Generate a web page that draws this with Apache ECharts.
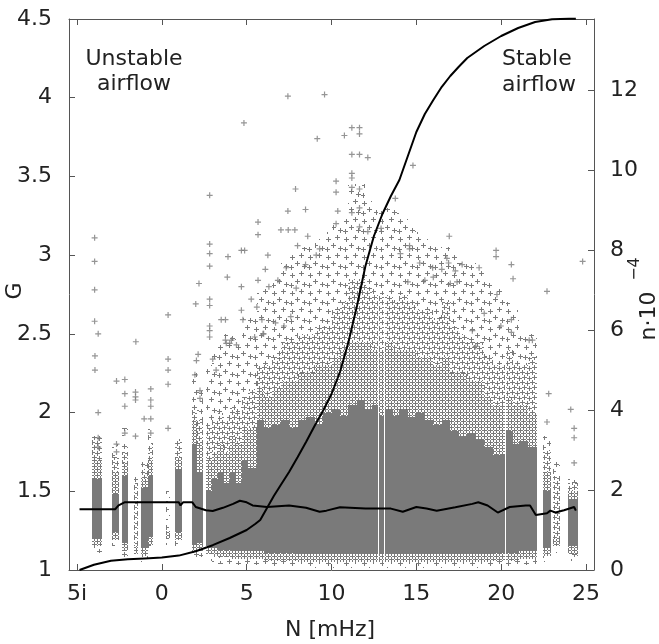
<!DOCTYPE html>
<html><head><meta charset="utf-8">
<script src="https://cdn.jsdelivr.net/npm/echarts@6/dist/echarts.min.js"></script>
<style>html,body{margin:0;padding:0;background:#fff}#c{width:659px;height:644px}</style>
</head><body><div id="c"></div><script>
// ---------------- data ----------------
const xTicks = [-5, 0, 5, 10, 15, 20, 25];
const xTickLabels = ['5i', '0', '5', '10', '15', '20', '25'];
const nTicks = [0, 2, 4, 6, 8, 10, 12];

// scatter columns of G values:
// [N0, N1, bottom of dense, top of dense, top of heavy, top of medium, top of sparse]
const scatterColumns = [
  [-4.14,-3.55,1.20,1.58,1.70,1.85,1.85],
  [-2.96,-2.51,1.24,1.48,1.62,1.72,1.80],
  [-2.37,-1.98,1.17,1.60,1.68,1.75,1.90],
  [-1.62,-1.42,1.15,1.15,1.15,1.55,1.60],
  [-1.20,-0.82,1.14,1.52,1.58,1.64,1.70],
  [-0.80,-0.50,1.21,1.60,1.70,1.80,1.90],
  [0.25,0.50,1.25,1.25,1.25,1.25,1.50],
  [0.76,1.16,1.24,1.64,1.72,1.83,1.83],
  [1.75,2.10,1.16,1.80,1.95,2.05,2.25],
  [2.10,2.45,1.17,1.62,1.80,1.95,2.15],
  [2.60,2.95,1.15,1.50,1.70,1.90,2.30],
  [2.95,3.30,1.14,1.58,1.75,1.95,2.40],
  [3.30,3.65,1.13,1.62,1.80,2.00,2.45],
  [3.65,4.00,1.13,1.55,1.75,1.95,2.50],
  [4.00,4.35,1.12,1.62,1.85,2.05,2.50],
  [4.35,4.70,1.12,1.55,1.80,2.00,2.45],
  [4.70,5.10,1.12,1.70,1.90,2.10,2.60],
  [5.10,5.60,1.12,1.65,1.90,2.15,2.60],
  [5.6,6.0,1.12,1.95,2.15,2.30,2.80],
  [6.0,6.5,1.11,1.90,2.10,2.30,2.80],
  [6.5,7.0,1.11,1.92,2.15,2.35,2.85],
  [7.0,7.5,1.11,1.95,2.20,2.45,2.95],
  [7.5,8.0,1.11,1.90,2.20,2.45,3.00],
  [8.0,8.5,1.10,1.95,2.25,2.50,3.05],
  [8.5,9.0,1.10,1.97,2.25,2.50,3.05],
  [9.0,9.5,1.10,1.93,2.30,2.55,3.10],
  [9.5,10.0,1.10,2.00,2.30,2.55,3.15],
  [10.0,10.5,1.10,2.02,2.35,2.65,3.20],
  [10.5,11.0,1.10,1.98,2.40,2.70,3.25],
  [11.0,11.5,1.10,2.05,2.45,2.85,3.45],
  [11.5,12.0,1.10,2.08,2.45,2.85,3.45],
  [12.0,12.4,1.10,2.02,2.45,2.80,3.35],
  [12.4,12.73,1.10,2.05,2.40,2.75,3.30],
  [12.79,13.09,1.10,1.98,2.40,2.75,3.30],
  [13.15,13.6,1.10,2.02,2.45,2.75,3.30],
  [13.6,14.0,1.10,1.98,2.40,2.70,3.30],
  [14.0,14.5,1.10,2.02,2.40,2.75,3.25],
  [14.5,15.0,1.10,1.97,2.40,2.70,3.20],
  [15.0,15.5,1.10,2.00,2.35,2.65,3.15],
  [15.5,16.0,1.10,1.95,2.35,2.65,3.10],
  [16.0,16.5,1.10,1.92,2.30,2.60,3.05],
  [16.5,17.0,1.10,1.95,2.35,2.70,3.05],
  [17.0,17.5,1.10,1.88,2.25,2.55,3.00],
  [17.5,18.0,1.10,1.85,2.25,2.50,2.95],
  [18.0,18.5,1.10,1.87,2.20,2.45,2.95],
  [18.5,19.0,1.10,1.83,2.20,2.45,2.90],
  [19.0,19.5,1.10,1.78,2.10,2.35,2.85],
  [19.5,20.22,1.11,1.73,2.05,2.30,2.80],
  [20.28,20.7,1.11,1.88,2.10,2.40,2.70],
  [20.7,21.05,1.11,1.80,2.05,2.30,2.65],
  [21.05,21.6,1.12,1.82,2.05,2.30,2.50],
  [21.6,22.1,1.12,1.78,2.00,2.35,2.50],
  [22.45,22.95,1.14,1.50,1.62,1.76,1.85],
  [23.05,23.45,1.20,1.20,1.20,1.60,1.70],
  [23.95,24.50,1.15,1.45,1.50,1.55,1.60]
];

// isolated points [N, G]
const scatterOutliers = [
  [-3.96,3.11],[-3.96,2.96],[-3.96,2.78],[-3.96,2.58],[-3.75,2.5],[-3.94,2.36],[-3.94,2.27],[-3.75,2.0],[-3.75,1.84],[-3.75,1.78],
  [-2.67,2.2],[-2.18,2.21],[-2.67,1.8],[-2.67,1.75],[-2.18,1.87],[-2.18,2.04],[-2.18,2.12],
  [-1.53,2.45],[-1.55,2.13],[-1.55,2.1],[-1.55,2.08],[-1.55,1.85],
  [-0.65,2.15],[-0.65,2.08],[-0.65,2.04],[-1.04,1.96],[-0.65,1.96],[-0.65,1.87],
  [0.37,2.62],[0.37,2.34],[0.37,2.27],[0.37,2.18],[0.37,1.9],
  [2.0,2.69],[2.19,2.82],[2.04,2.33],[2.14,2.37],[1.95,2.24],[2.25,2.14],[2.25,2.09],
  [2.82,3.38],[2.82,3.07],[2.82,3.01],[2.82,2.93],[2.82,2.72],[2.82,2.68],[2.82,2.52],[2.82,2.48],[2.82,2.55],
  [3.0,2.34],[3.2,2.27],[3.75,2.59],[3.86,2.86],[3.9,2.99],[3.75,2.46],[4.0,2.44],[3.8,2.44],[4.1,2.46],[4.4,2.43],[3.5,2.59],
  [4.69,3.03],[4.88,3.03],[4.84,3.84],[4.69,2.8],[4.69,2.65],[4.78,2.59],[5.27,2.72],[5.47,2.48],[5.96,2.5],[5.67,3.21],
  [5.67,3.13],[5.67,2.84],[5.9,2.59],[6.1,2.91],[6.25,3.0],[6.31,2.8],[6.84,2.84],[5.6,2.67],[6.0,2.5],[6.7,2.57],[7.2,2.55],[7.6,2.61],
  [7.02,3.16],[7.45,3.16],[7.84,3.16],[7.43,3.28],[7.88,3.42],[8.47,3.29],[8.6,3.12],[8.0,3.06],[9.1,3.0],[7.33,2.92],[7.92,2.79],
  [8.47,2.94],[9.16,3.74],[7.43,4.01],[9.59,4.02],[9.3,3.04],
  [11.2,3.81],[11.65,3.81],[11.65,3.77],[10.76,3.76],[11.2,3.64],[11.65,3.64],[12.14,3.62],[11.2,3.52],[11.2,3.49],[11.2,3.43],
  [11.65,3.42],[10.27,3.47],[10.27,3.40],[10.37,3.28],[11.2,3.27],[11.65,3.30],[10.27,3.2],[11.65,3.18],[12.14,3.15],[12.92,3.17],
  [14.8,3.57],[13.76,3.36],[16.94,3.12],[14.6,3.06],[14.6,3.04],[14.06,3.01],[19.7,3.03],[19.7,2.99],[16.8,2.98],[16.9,2.95],
  [17.7,2.94],[18.7,2.92],[20.6,2.94],[20.7,2.85],[22.7,2.77],[19.75,2.75],[19.0,2.63],[20.6,2.59],[20.6,2.51],[19.98,2.55],
  [21.65,2.46],[21.84,2.46],[22.8,2.12],[22.7,1.94],[24.1,2.02],[24.3,1.9],[24.3,1.84],[24.3,1.68],[24.8,2.96],
  [16.5,2.91],[15.2,2.95],[15.96,2.92],[17.3,2.9],[14.5,2.83],[15.5,2.84],[16.0,2.86],[17.0,2.82],[17.4,2.83],[18.3,2.52],[18.5,2.42]
];

// running mean of G
const meanN = [-4.85,-2.75,-2.55,-2.2,1.0,1.1,1.25,1.8,2.0,2.6,3.0,3.6,4.2,4.6,5.0,5.35,6.2,7.5,8.5,9.3,9.7,10.5,12.0,13.5,14.2,15.0,15.6,16.2,17.3,18.3,18.65,19.2,19.8,20.5,21.45,21.7,22.04,22.7,22.9,23.2,23.7,24.3,24.4];
const meanG = [1.386,1.386,1.41,1.43,1.43,1.41,1.43,1.43,1.40,1.38,1.375,1.395,1.42,1.44,1.43,1.41,1.40,1.41,1.395,1.37,1.377,1.398,1.39,1.39,1.37,1.40,1.39,1.377,1.398,1.42,1.43,1.41,1.365,1.40,1.41,1.41,1.35,1.36,1.377,1.365,1.38,1.40,1.377];

// cumulative count n (x 10^4)
const cumN = [-4.85,-4,-3,-2,-1,0,1,2,3,4,5,5.5,5.8,6.2,6.6,7,7.5,8,8.5,9,9.5,10,10.5,11,11.5,12,12.5,13,13.5,14,14.5,15,15.5,16,16.5,17,17.5,18,19,20,21,22,23,24,24.4];
const cumV = [0,0.13,0.23,0.27,0.29,0.31,0.36,0.47,0.62,0.8,1.0,1.15,1.25,1.55,1.85,2.12,2.45,2.82,3.2,3.6,3.98,4.4,4.95,5.7,6.6,7.6,8.35,8.9,9.35,9.75,10.35,10.95,11.4,11.75,12.08,12.35,12.58,12.8,13.1,13.35,13.55,13.7,13.77,13.78,13.78];

// ---------------- styling ----------------
const FONT = '"DejaVu Sans"';
const GREY = '#7a7a7a';
function makeTile(w, h, pts) {
  const c = document.createElement('canvas'); c.width = w; c.height = h;
  const ctx = c.getContext('2d'); ctx.fillStyle = GREY;
  pts.forEach(([x, y]) => {
    [[0,0],[w,0],[-w,0],[0,h],[0,-h]].forEach(([dx, dy]) => {
      ctx.fillRect(x + dx - 2, y + dy, 5, 1); ctx.fillRect(x + dx, y + dy - 2, 1, 5);
    });
  });
  return c;
}
const heavyFill = { image: makeTile(6, 6, [[1,1],[4,4]]), repeat: 'repeat' };
const mediumFill = { image: makeTile(10, 10, [[2,2],[7,3],[4,7],[9,8]]), repeat: 'repeat' };
const sparseFill = { image: makeTile(18, 18, [[4,5],[13,3],[9,11],[16,14],[3,15]]), repeat: 'repeat' };

const plusPath = 'path://M4,0h2v4h4v2h-4v4h-2v-4h-4v-2h4z';

function renderColumn(params, api) {
  const n0 = api.value(0), n1 = api.value(1), lo = api.value(2), dHi = api.value(3),
        hHi = api.value(4), mHi = api.value(5), sHi = api.value(6);
  const children = [];
  function band(y0, y1, fill) {
    if (y1 <= y0) return;
    const a = api.coord([n0, y1]), b = api.coord([n1, y0]);
    const x0 = Math.round(a[0]), x1 = Math.round(b[0]);
    const t = Math.round(a[1]), bt = Math.round(b[1]);
    children.push({ type: 'rect', shape: { x: x0, y: t, width: x1 - x0, height: bt - t }, style: { fill: fill } });
  }
  band(lo - 0.05, lo, heavyFill);
  band(lo - 0.09, lo - 0.05, sparseFill);
  band(lo, dHi, GREY);
  band(dHi, hHi, heavyFill);
  band(hHi, mHi, mediumFill);
  band(mHi, sHi, sparseFill);
  return { type: 'group', children: children };
}

const chart = echarts.init(document.getElementById('c'), null, { renderer: 'canvas' });
const axisLineStyle = { color: '#555', width: 1 };
const labelStyle = { fontFamily: 'DejaVu Sans', fontSize: 22, color: '#222' };

chart.setOption({
  backgroundColor: '#fff',
  animation: false,
  grid: { left: 69, right: 65, top: 19, bottom: 74, containLabel: false, outerBoundsMode: 'none' },
  xAxis: [
    { type: 'value', min: -5.47, max: 25.47, position: 'bottom',
      axisLine: { show: true, onZero: false, lineStyle: axisLineStyle },
      axisTick: { show: true, inside: true, length: 6, customValues: xTicks, lineStyle: axisLineStyle },
      axisLabel: Object.assign({ customValues: xTicks, margin: 13,
        formatter: v => { const i = xTicks.indexOf(v); return i >= 0 ? xTickLabels[i] : ''; } }, labelStyle),
      splitLine: { show: false } },
    { type: 'value', min: -5.47, max: 25.47, position: 'top',
      axisLine: { show: true, onZero: false, lineStyle: axisLineStyle },
      axisTick: { show: true, inside: true, length: 6, customValues: xTicks, lineStyle: axisLineStyle },
      axisLabel: { show: false }, splitLine: { show: false } }
  ],
  yAxis: [
    { type: 'value', min: 1, max: 4.5, interval: 0.5, position: 'left',
      axisLine: { show: true, onZero: false, lineStyle: axisLineStyle },
      axisTick: { show: true, inside: true, length: 6, lineStyle: axisLineStyle },
      axisLabel: Object.assign({ margin: 17 }, labelStyle),
      splitLine: { show: false } },
    { type: 'value', min: 0, max: 13.775, position: 'right',
      axisLine: { show: true, onZero: false, lineStyle: axisLineStyle },
      axisTick: { show: true, inside: true, length: 6, customValues: nTicks, lineStyle: axisLineStyle },
      axisLabel: Object.assign({ margin: 16, customValues: nTicks,
        formatter: v => (nTicks.indexOf(v) >= 0 ? String(v) : '') }, labelStyle),
      splitLine: { show: false } }
  ],
  series: [
    { type: 'custom', xAxisIndex: 0, yAxisIndex: 0, clip: true, z: 1, silent: true,
      renderItem: renderColumn, encode: { x: [0, 1], y: [2, 6] }, data: scatterColumns },
    { type: 'scatter', xAxisIndex: 0, yAxisIndex: 0, z: 2, silent: true,
      symbol: plusPath, symbolSize: 6, itemStyle: { color: GREY }, data: scatterOutliers },
    { type: 'line', xAxisIndex: 0, yAxisIndex: 0, z: 3, silent: true, showSymbol: false, symbol: 'none',
      lineStyle: { color: '#000', width: 2 }, data: meanN.map((n, i) => [n, meanG[i]]) },
    { type: 'line', xAxisIndex: 0, yAxisIndex: 1, z: 3, silent: true, showSymbol: false, symbol: 'none', clip: false,
      lineStyle: { color: '#000', width: 2 }, data: cumN.map((n, i) => [n, cumV[i]]) }
  ],
  graphic: [
    { type: 'text', x: 134, y: 59, z: 10, style: { text: 'Unstable', font: '22px ' + FONT, fill: '#222', align: 'center', verticalAlign: 'middle' } },
    { type: 'text', x: 134, y: 84, z: 10, style: { text: 'airflow', font: '22px ' + FONT, fill: '#222', align: 'center', verticalAlign: 'middle' } },
    { type: 'text', x: 502, y: 59, z: 10, style: { text: 'Stable', font: '22px ' + FONT, fill: '#222', align: 'left', verticalAlign: 'middle' } },
    { type: 'text', x: 502, y: 85, z: 10, style: { text: 'airflow', font: '22px ' + FONT, fill: '#222', align: 'left', verticalAlign: 'middle' } },
    { type: 'text', x: 330, y: 630, z: 10, style: { text: 'N [mHz]', font: '22px ' + FONT, fill: '#222', align: 'center', verticalAlign: 'middle' } },
    { type: 'text', x: 15, y: 291, rotation: Math.PI / 2, z: 10, style: { text: 'G', font: '22px ' + FONT, fill: '#222', align: 'center', verticalAlign: 'middle' } },
    { type: 'text', x: 649, y: 316, rotation: Math.PI / 2, z: 10, style: { text: 'n·10', font: '22px ' + FONT, fill: '#222', align: 'center', verticalAlign: 'middle' } },
    { type: 'text', x: 635, y: 269, rotation: Math.PI / 2, z: 10, style: { text: '−4', font: '16px ' + FONT, fill: '#222', align: 'center', verticalAlign: 'middle' } }
  ]
});
</script></body></html>
